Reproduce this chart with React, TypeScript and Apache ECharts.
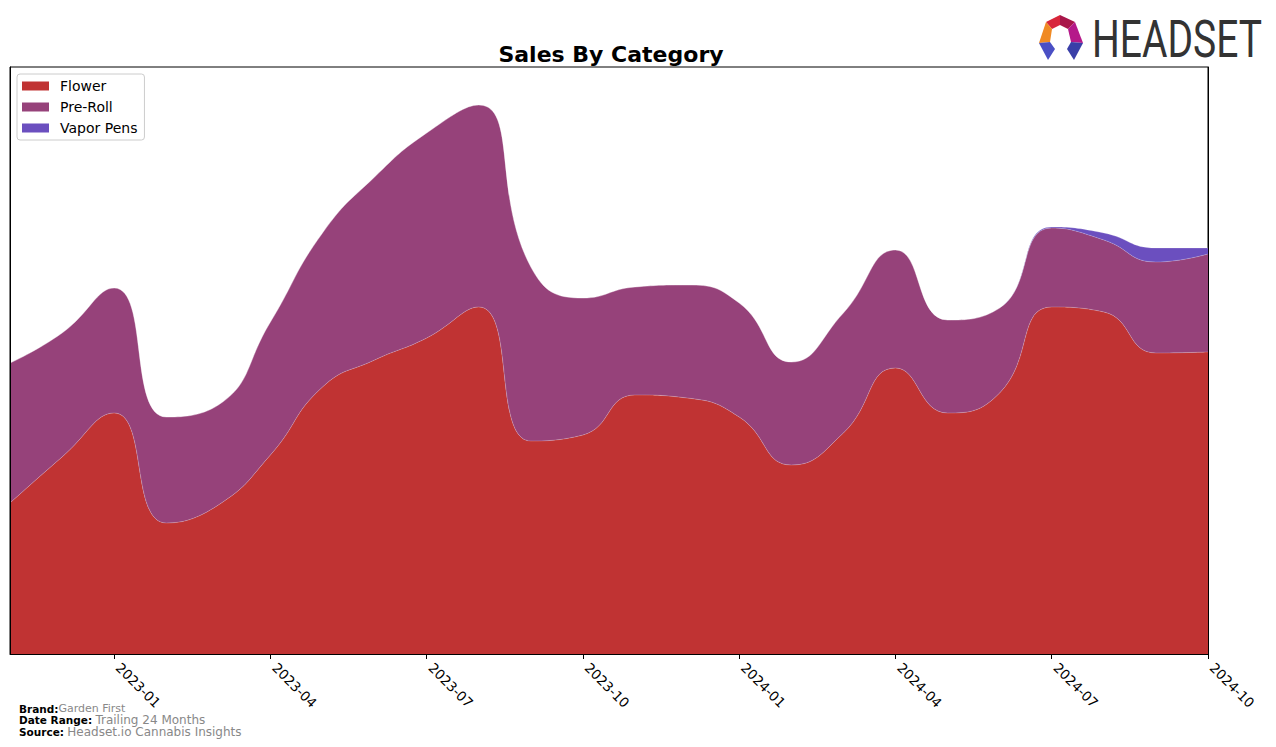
import React, { useEffect, useRef } from "react";
import * as echarts from "echarts";

const months = [
  "2022-11", "2022-12", "2023-01", "2023-02", "2023-03", "2023-04",
  "2023-05", "2023-06", "2023-07", "2023-08", "2023-09", "2023-10",
  "2023-11", "2023-12", "2024-01", "2024-02", "2024-03", "2024-04",
  "2024-05", "2024-06", "2024-07", "2024-08", "2024-09", "2024-10",
];
const flower = [151, 197, 241, 131, 149, 199, 267, 294, 316, 347, 213, 219, 259, 256, 237, 189, 221, 286, 241, 261, 347, 342, 301, 302];
const preRoll = [140, 124, 125, 106, 100, 133, 154, 183, 205, 202, 174, 137, 108, 113, 114, 103, 120, 118, 93, 85, 79, 72, 91, 98];
const vaporPens = [0, 0, 0, 0, 0, 0, 0, 0, 0, 0, 0, 0, 0, 0, 0, 0, 0, 0, 0, 0, 1, 7, 14, 6];
const tickMonths = ["2023-01", "2023-04", "2023-07", "2023-10", "2024-01", "2024-04", "2024-07", "2024-10"];

const seriesNames = ["Flower", "Pre-Roll", "Vapor Pens"];
const seriesColors = ["#C03333", "#96427A", "#6B4FBF"];

const footerLabels = ["Brand:", "Date Range:", "Source:"];
const footerValues = ["Garden First", "Trailing 24 Months", "Headset.io Cannabis Insights"];

export default function App() {
  const ref = useRef<HTMLDivElement>(null);
  useEffect(() => {
    document.body.style.margin = "0";
    if (!ref.current) return;
    const chart = echarts.init(ref.current, null, { renderer: "svg" });
    const values = [flower, preRoll, vaporPens];
    const isTick = (idx: number) => tickMonths.indexOf(months[idx]) >= 0;
    const footer = footerLabels.map((lab, i) => ({
      type: "text",
      x: 19,
      y: 708.5 + i * 11.5,
      style: {
        text: `{b|${lab}}${i === 0 ? "" : " "}{v|${footerValues[i]}}`,
        verticalAlign: "middle",
        rich: {
          b: { fontFamily: "DejaVu Sans", fontSize: 10.5, fontWeight: "bold", fill: "#000", lineHeight: 11 },
          v: { fontFamily: "DejaVu Sans", fontSize: i === 0 ? 11 : 12, fill: "#888", lineHeight: 11 },
        },
      },
    }));
    const option: any = {
      animation: false,
      backgroundColor: "#ffffff",
      title: {
        text: "Sales By Category",
        left: 606,
        top: 38,
        textAlign: "center",
        textStyle: { fontFamily: "DejaVu Sans", fontSize: 22, fontWeight: "bold", color: "#000" },
      },
      legend: {
        left: 17,
        top: 74,
        orient: "vertical",
        icon: "rect",
        itemWidth: 27,
        itemHeight: 9,
        itemGap: 7,
        padding: [5, 7, 5, 5],
        borderColor: "#cccccc",
        borderWidth: 1,
        borderRadius: 3,
        data: seriesNames,
        textStyle: { fontFamily: "DejaVu Sans", fontSize: 14, color: "#000", padding: [0, 0, 0, 6] },
      },
      grid: {
        left: 10,
        right: 68,
        top: 67,
        bottom: 93,
        show: true,
        borderColor: "#000",
        borderWidth: 1,
      },
      xAxis: {
        type: "category",
        data: months,
        boundaryGap: false,
        z: 10,
        splitLine: { show: false },
        axisLine: { show: true, lineStyle: { color: "#000", width: 1 } },
        axisTick: { show: true, interval: (idx: number) => isTick(idx), length: 5, lineStyle: { color: "#000" } },
        axisLabel: {
          interval: (idx: number) => isTick(idx),
          rotate: -45,
          margin: 7,
          padding: [0, 0, 0, 6],
          fontFamily: "DejaVu Sans",
          fontSize: 13.5,
          color: "#000",
          hideOverlap: false,
        },
      },
      yAxis: [
        {
          type: "value",
          min: 0,
          max: 587,
          z: 10,
          axisLine: { show: true, lineStyle: { color: "#000" } },
          axisTick: { show: false },
          axisLabel: { show: false },
          splitLine: { show: false },
        },
        {
          type: "value",
          position: "right",
          min: 0,
          max: 587,
          z: 10,
          axisLine: { show: true, lineStyle: { color: "#000" } },
          axisTick: { show: false },
          axisLabel: { show: false },
          splitLine: { show: false },
        },
      ],
      series: seriesNames.map((name, i) => ({
        name,
        type: "line",
        stack: "total",
        smooth: 0.5,
        showSymbol: false,
        symbol: "none",
        color: seriesColors[i],
        lineStyle: { width: 0.6, color: "rgba(255,255,255,0.35)" },
        areaStyle: { color: seriesColors[i], opacity: 1 },
        itemStyle: { color: seriesColors[i] },
        data: values[i],
      })),
      graphic: [
        ...footer,
        { type: "polygon", shape: { points: [[1046, 22], [1060, 15], [1060, 25], [1052, 29]] }, style: { fill: "#D8263A" } },
        { type: "polygon", shape: { points: [[1060, 15], [1075, 22], [1068, 29], [1060, 25]] }, style: { fill: "#A8164A" } },
        { type: "polygon", shape: { points: [[1046, 22], [1052, 29], [1050, 42], [1039, 43]] }, style: { fill: "#F08A24" } },
        { type: "polygon", shape: { points: [[1075, 22], [1083, 43], [1071, 42], [1068, 29]] }, style: { fill: "#B5198A" } },
        { type: "polygon", shape: { points: [[1039, 43], [1050, 42], [1055, 49], [1048, 60]] }, style: { fill: "#4A4FC4" } },
        { type: "polygon", shape: { points: [[1071, 42], [1083, 43], [1074, 60], [1067, 49]] }, style: { fill: "#3A3FA8" } },
        {
          type: "text",
          x: 1092,
          y: 39,
          scaleX: 0.75,
          style: {
            text: "HEADSET",
            fontFamily: "Roboto",
            fontSize: 52,
            fill: "#333333",
            verticalAlign: "middle",
            align: "left",
          },
        },
      ],
    };
    chart.setOption(option);
    return () => chart.dispose();
  }, []);
  return <div ref={ref} style={{ width: 1276, height: 747 }} />;
}
